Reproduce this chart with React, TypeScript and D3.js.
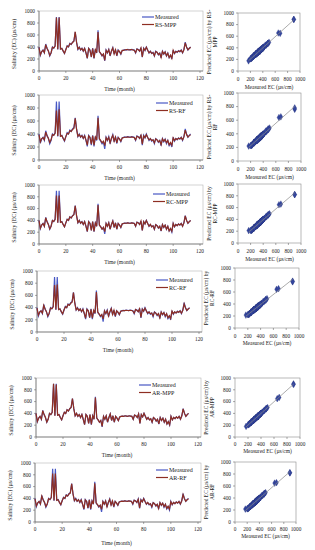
import React from "react";
import * as d3 from "d3";

const MEASURED = [400,260,320,350,300,450,380,330,250,300,
 400,380,420,900,360,900,370,380,330,290,
 360,420,400,460,440,480,500,650,480,360,
 400,350,380,330,380,300,210,380,350,230,
 380,210,360,300,680,320,290,250,280,170,
 350,300,360,250,330,390,280,360,250,350,
 320,280,340,350,355,350,360,355,350,360,
 355,350,300,370,360,330,390,230,380,340,
 400,350,300,330,290,310,250,330,310,270,
 300,220,330,280,320,250,300,220,260,200,
 350,290,330,310,340,320,350,300,360,480,
 400,350,380,400];

const RS_MPP = [395,270,325,345,305,440,375,335,260,305,
 395,385,415,890,365,890,365,375,335,295,
 355,415,405,455,445,475,495,655,475,365,
 395,355,375,335,375,305,215,375,345,235,
 375,215,355,305,650,325,295,255,285,175,
 345,305,355,255,335,385,285,355,255,345,
 325,285,345,345,350,355,355,350,355,355,
 350,345,305,365,355,335,385,235,375,345,
 395,345,305,325,295,305,255,325,315,275,
 295,225,325,285,315,255,295,225,265,210,
 345,295,325,315,335,325,345,305,355,470,
 395,355,375,395];

const RS_RF = [390,280,330,345,310,430,370,335,270,310,
 390,380,410,760,370,780,365,375,335,300,
 360,410,400,450,440,470,485,640,470,365,
 390,355,375,335,370,310,230,370,345,245,
 370,230,355,310,650,330,300,265,290,220,
 345,305,350,265,335,380,290,355,265,345,
 325,290,340,345,350,350,355,350,350,355,
 350,345,310,365,355,335,380,245,370,345,
 390,345,310,330,300,310,265,325,310,280,
 300,235,325,290,315,265,300,235,270,225,
 340,300,330,315,335,325,345,310,355,460,
 390,355,375,390];

const RC_MPP = [398,265,322,348,302,445,378,332,255,302,
 398,382,418,820,362,820,368,378,332,292,
 358,418,402,458,442,478,496,648,478,362,
 398,352,378,332,378,302,215,378,348,232,
 378,212,358,302,660,322,292,252,282,210,
 348,302,358,252,332,388,282,358,252,348,
 322,282,342,348,354,352,358,354,352,358,
 354,348,302,368,358,332,388,232,378,342,
 398,348,302,332,292,308,252,328,310,272,
 300,222,328,282,318,252,298,222,262,215,
 348,292,330,310,338,322,348,302,358,475,
 398,352,378,398];

const RC_RF = [392,275,328,346,308,435,372,334,265,308,
 392,380,412,770,368,780,366,376,334,298,
 360,412,400,452,440,472,488,645,472,364,
 392,354,376,334,372,308,225,372,346,240,
 372,225,356,308,655,328,298,262,288,215,
 346,304,352,262,334,382,288,356,262,346,
 324,288,340,346,352,350,356,352,350,356,
 352,346,308,366,356,334,382,240,372,344,
 392,346,308,330,298,310,262,326,310,278,
 300,232,326,288,316,262,300,232,268,222,
 342,298,330,312,336,324,346,308,356,462,
 392,354,376,392];

const AR_MPP = [400,262,320,350,300,448,380,330,252,300,
 400,380,420,900,360,890,370,380,330,290,
 360,420,400,460,440,480,500,650,480,360,
 400,350,380,330,380,300,212,380,350,232,
 380,212,360,300,670,320,290,252,280,180,
 350,300,360,252,330,390,280,360,252,350,
 320,280,340,350,355,350,360,355,350,360,
 355,350,300,370,360,330,390,232,380,340,
 400,350,300,330,290,310,252,330,310,272,
 300,222,330,280,320,252,300,222,260,205,
 350,290,330,310,340,320,350,300,360,478,
 400,350,380,400];

const AR_RF = [394,272,326,347,306,438,374,333,262,306,
 394,381,414,820,366,820,367,377,333,296,
 359,414,401,454,441,474,490,648,474,363,
 394,353,377,333,374,306,222,374,347,238,
 374,222,357,306,655,326,296,260,286,215,
 347,303,354,260,333,384,286,357,260,347,
 323,286,341,347,353,351,357,353,351,357,
 353,347,306,367,357,333,384,238,374,343,
 394,347,306,331,296,309,260,327,310,276,
 300,230,327,286,317,260,300,230,266,220,
 344,296,331,311,337,323,347,306,357,465,
 394,353,377,394];

const MODEL_NAMES = ["RS-MPP", "RS-RF", "RC-MPP", "RC-RF", "AR-MPP", "AR-RF"];
const PREDICTIONS = [RS_MPP, RS_RF, RC_MPP, RC_RF, AR_MPP, AR_RF];
const SCATTER_LABEL_LINES = [
  ["Predicted EC (\u00b5s/cm) by RS-", "MPP"],
  ["Predicted EC (\u00b5s/cm) by RS-", "RF"],
  ["Predicted EC (\u00b5s/cm) by", "RC-MPP"],
  ["Predicted EC (\u00b5s/cm) by", "RC-RF"],
  ["Predicted EC (\u00b5s/cm) by", "AR-MPP"],
  ["Predicted EC (\u00b5s/cm) by", "AR-RF"],
];

const TS_X_TICKS = [0, 20, 40, 60, 80, 100, 120];
const Y_TICKS = [0, 200, 400, 600, 800, 1000];
const SC_X_TICKS = [0, 200, 400, 600, 800, 1000];

// layout (pixel positions) per row
const TS_LAYOUT = [
  { x0: 39, x1: 200, yTop: 11, yBot: 71, tickY: 80, titleY: 91, legX: 142, legY: 17 },
  { x0: 39, x1: 200, yTop: 95, yBot: 160, tickY: 169, titleY: 180, legX: 156, legY: 103 },
  { x0: 39, x1: 200, yTop: 185, yBot: 244, tickY: 253, titleY: 264, legX: 153, legY: 194 },
  { x0: 37, x1: 199, yTop: 271, yBot: 332, tickY: 341, titleY: 352, legX: 156, legY: 280 },
  { x0: 36, x1: 198, yTop: 378, yBot: 437, tickY: 446, titleY: 457, legX: 139, legY: 385 },
  { x0: 35, x1: 198, yTop: 463, yBot: 522, tickY: 531, titleY: 545, legX: 156, legY: 470 },
];
const SC_LAYOUT = [
  { x0: 238, x1: 300, yTop: 13, yBot: 71, tickY: 81, titleY: 89, labX: 211 },
  { x0: 238, x1: 301, yTop: 93, yBot: 161, tickY: 171, titleY: 179, labX: 211 },
  { x0: 238, x1: 301, yTop: 184, yBot: 243, tickY: 253, titleY: 261, labX: 211 },
  { x0: 235, x1: 299, yTop: 268, yBot: 328, tickY: 338, titleY: 345, labX: 208 },
  { x0: 235, x1: 300, yTop: 378, yBot: 437, tickY: 446, titleY: 453, labX: 208 },
  { x0: 235, x1: 296, yTop: 462, yBot: 522, tickY: 531, titleY: 538, labX: 208 },
];

const FONT = "'Liberation Serif', 'Times New Roman', serif";
const BLUE = "#4858c4";
const RED = "#8e2e22";
const DOT = "#34469e";

function TimeSeries({ L, pred, name }: any) {
  const x = d3.scaleLinear().domain([0, 120]).range([L.x0, L.x1]);
  const y = d3.scaleLinear().domain([0, 1000]).range([L.yBot, L.yTop]);
  const line = d3.line<number>().x((_, i) => x(i)).y((d) => y(d));
  return (
    <g fontFamily={FONT}>
      <rect x={L.x0} y={L.yTop} width={L.x1 - L.x0 + 3} height={L.yBot - L.yTop}
        fill="none" stroke="#b5b5b5" strokeWidth={0.6} />
      <line x1={L.x0} x2={L.x0} y1={L.yTop} y2={L.yBot} stroke="#555" strokeWidth={0.6} />
      <line x1={L.x0} x2={L.x1 + 3} y1={L.yBot} y2={L.yBot} stroke="#555" strokeWidth={0.6} />
      {Y_TICKS.map((t) => (
        <g key={t}>
          <line x1={L.x0 - 2} x2={L.x0} y1={y(t)} y2={y(t)} stroke="#555" strokeWidth={0.5} />
          <text x={L.x0 - 4} y={y(t) + 1.8} fontSize={5.3} textAnchor="end" fill="#222">{t}</text>
        </g>
      ))}
      {TS_X_TICKS.map((t) => (
        <g key={t}>
          <line x1={x(t)} x2={x(t)} y1={L.yBot} y2={L.yBot + 2} stroke="#555" strokeWidth={0.5} />
          <text x={x(t)} y={L.tickY} fontSize={5.3} textAnchor="middle" fill="#222">{t}</text>
        </g>
      ))}
      <path d={line(MEASURED) || ""} fill="none" stroke={BLUE} strokeWidth={1.2} />
      <path d={line(pred) || ""} fill="none" stroke={RED} strokeWidth={1.2} />
      <text x={(L.x0 + L.x1) / 2} y={L.titleY} fontSize={5.5} textAnchor="middle" fill="#222">Time (month)</text>
      <text transform={`translate(${L.x0 - 23},${(L.yTop + L.yBot) / 2 + 3}) rotate(-90)`}
        fontSize={5.8} textAnchor="middle" fill="#222">Salinity (EC) (µs/cm)</text>
      <line x1={L.legX} x2={L.legX + 12} y1={L.legY} y2={L.legY} stroke={BLUE} strokeWidth={1.2} />
      <text x={L.legX + 13} y={L.legY + 2} fontSize={6} fill="#222">Measured</text>
      <line x1={L.legX} x2={L.legX + 12} y1={L.legY + 7.5} y2={L.legY + 7.5} stroke={RED} strokeWidth={1.2} />
      <text x={L.legX + 13} y={L.legY + 9.5} fontSize={6} fill="#222">{name}</text>
    </g>
  );
}

function Scatter({ L, pred, lines }: any) {
  const x = d3.scaleLinear().domain([0, 1000]).range([L.x0, L.x1]);
  const y = d3.scaleLinear().domain([0, 1000]).range([L.yBot, L.yTop]);
  const n = MEASURED.length;
  const mx = d3.mean(MEASURED) as number;
  const my = d3.mean(pred as number[]) as number;
  let sxy = 0, sxx = 0;
  for (let i = 0; i < n; i++) {
    sxy += (MEASURED[i] - mx) * (pred[i] - my);
    sxx += (MEASURED[i] - mx) ** 2;
  }
  const b = sxy / sxx;
  const a = my - b * mx;
  const [lo, hi] = d3.extent(MEASURED) as [number, number];
  const sym = d3.symbol().type(d3.symbolDiamond).size(13);
  return (
    <g fontFamily={FONT}>
      <rect x={L.x0} y={L.yTop} width={L.x1 - L.x0} height={L.yBot - L.yTop}
        fill="none" stroke="#8a8a8a" strokeWidth={0.6} />
      {Y_TICKS.map((t) => (
        <g key={t}>
          <line x1={L.x0 - 2} x2={L.x0} y1={y(t)} y2={y(t)} stroke="#555" strokeWidth={0.5} />
          <text x={L.x0 - 4} y={y(t) + 1.8} fontSize={5.3} textAnchor="end" fill="#222">{t}</text>
        </g>
      ))}
      {SC_X_TICKS.map((t) => (
        <g key={t}>
          <line x1={x(t)} x2={x(t)} y1={L.yBot} y2={L.yBot + 2} stroke="#555" strokeWidth={0.5} />
          <text x={x(t)} y={L.tickY} fontSize={5.3} textAnchor="middle" fill="#222">{t}</text>
        </g>
      ))}
      {MEASURED.map((m, i) => (
        <path key={i} d={sym() || ""} transform={`translate(${x(m)},${y(pred[i])})`} fill={DOT} stroke="#24347f" strokeWidth={0.3} />
      ))}
      <line x1={x(lo)} y1={y(a + b * lo)} x2={x(hi)} y2={y(a + b * hi)} stroke="#888" strokeWidth={0.7} />
      <text x={(L.x0 + L.x1) / 2} y={L.titleY} fontSize={5.5} textAnchor="middle" fill="#222">Measured EC (µs/cm)</text>
      <text transform={`translate(${L.labX},${(L.yTop + L.yBot) / 2}) rotate(-90)`}
        fontSize={5.5} textAnchor="middle" fill="#222">
        <tspan x={0} dy={0}>{lines[0]}</tspan>
        <tspan x={0} dy={6}>{lines[1]}</tspan>
      </text>
    </g>
  );
}

export default function App() {
  return (
    <svg width={315} height={550} style={{ position: "absolute", left: 0, top: 0, background: "#fff" }}>
      <rect width={315} height={550} fill="#fff" />
      {MODEL_NAMES.map((name, i) => (
        <g key={name}>
          <TimeSeries L={TS_LAYOUT[i]} pred={PREDICTIONS[i]} name={name} />
          <Scatter L={SC_LAYOUT[i]} pred={PREDICTIONS[i]} lines={SCATTER_LABEL_LINES[i]} />
        </g>
      ))}
    </svg>
  );
}
